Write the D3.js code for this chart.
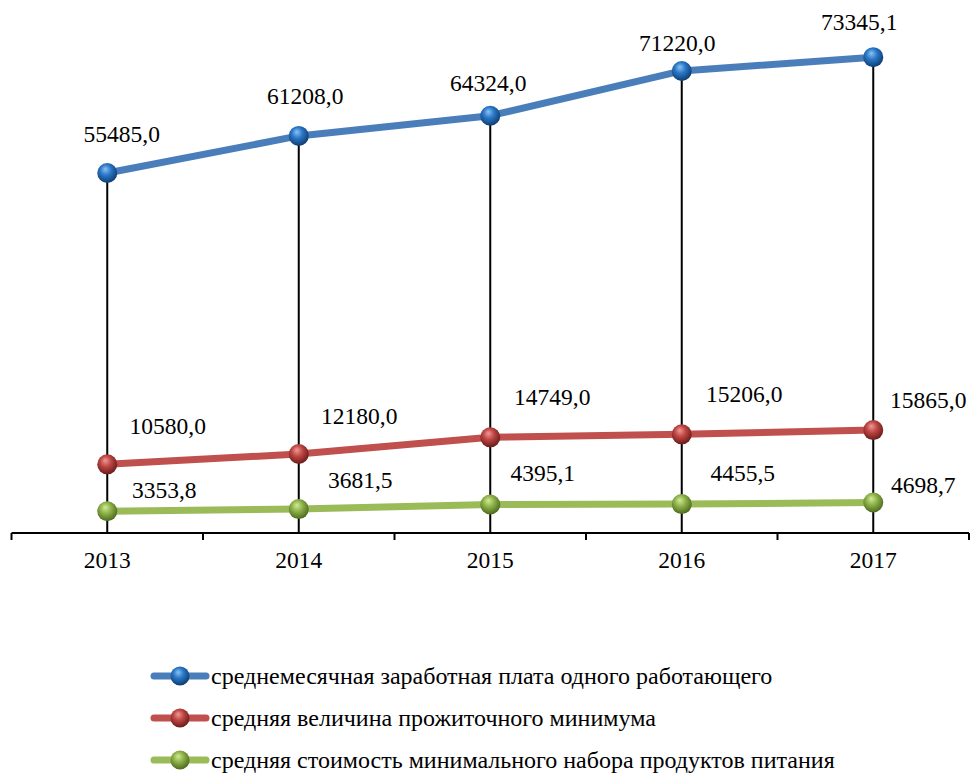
<!DOCTYPE html>
<html>
<head>
<meta charset="utf-8">
<script src="https://cdn.jsdelivr.net/npm/d3@7"></script>
<style>
  html, body { margin: 0; padding: 0; background: #fff; }
  svg { display: block; }
</style>
</head>
<body>
<script>
// Years on the category axis
const years = ["2013", "2014", "2015", "2016", "2017"];

// Series values (рублей)
const salary = [55485.0, 61208.0, 64324.0, 71220.0, 73345.1];
const subsistence = [10580.0, 12180.0, 14749.0, 15206.0, 15865.0];
const foodBasket = [3353.8, 3681.5, 4395.1, 4455.5, 4698.7];

// Series names for the legend
const seriesNames = [
  "среднемесячная заработная плата одного работающего",
  "средняя величина прожиточного минимума",
  "средняя стоимость минимального набора продуктов питания"
];

// Value label formatting: one decimal, comma separator
const fmt = v => v.toFixed(1).replace(".", ",");

const FONT = "'Liberation Serif', 'DejaVu Serif', serif";
const W = 975, H = 774;
const svg = d3.select("body").append("svg").attr("width", W).attr("height", H)
  .style("font-family", FONT);

const x = d3.scaleBand().domain(years).range([11.5, 969]).padding(0);
const y = d3.scaleLinear().domain([0, 80000]).range([533, 14]);
const xc = d => x(d) + x.bandwidth() / 2;

// Per-series styles
const styles = [
  { line: "#4A7EBB", hi: "#8cc2f2", mid: "#2a78c8", dark: "#0e3c72", id: "gBlue" },
  { line: "#C0504D", hi: "#ee9a97", mid: "#bf4744", dark: "#6a1c1a", id: "gRed" },
  { line: "#9BBB59", hi: "#d3ea9a", mid: "#8fb34a", dark: "#4d6a1f", id: "gGreen" }
];

// Label nudges relative to each point (layout only)
const labelNudge = [
  [[14.5, -31], [6.5, -32], [-2, -25], [-4.5, -20], [-14, -27]],
  [[60.5, -30], [60.5, -30], [62, -32], [62.5, -32], [55, -22]],
  [[57, -13], [61.5, -21], [52.5, -23], [61, -23], [50, -10]]
];

// Sphere-like gradients for markers
const defs = svg.append("defs");
styles.forEach(s => {
  const g = defs.append("radialGradient").attr("id", s.id)
    .attr("cx", "45%").attr("cy", "40%").attr("r", "60%")
    .attr("fx", "40%").attr("fy", "30%");
  g.append("stop").attr("offset", "0%").attr("stop-color", s.hi);
  g.append("stop").attr("offset", "45%").attr("stop-color", s.mid);
  g.append("stop").attr("offset", "100%").attr("stop-color", s.dark);
});

const allSeries = [salary, subsistence, foodBasket];

// Drop lines from the top series down to the axis
svg.append("g").selectAll("line").data(years).join("line")
  .attr("x1", d => xc(d)).attr("x2", d => xc(d))
  .attr("y1", (d, i) => y(d3.max(allSeries, s => s[i])))
  .attr("y2", y(0))
  .attr("stroke", "#000").attr("stroke-width", 2);

// Category axis with ticks at band boundaries
const axisG = svg.append("g");
axisG.append("line")
  .attr("x1", x.range()[0]).attr("x2", x.range()[1])
  .attr("y1", y(0)).attr("y2", y(0))
  .attr("stroke", "#000").attr("stroke-width", 2);
const bounds = years.map(d => x(d)).concat([x.range()[1]]);
axisG.selectAll("line.tick").data(bounds).join("line").attr("class", "tick")
  .attr("x1", d => d).attr("x2", d => d)
  .attr("y1", y(0)).attr("y2", y(0) + 7)
  .attr("stroke", "#000").attr("stroke-width", 2);
axisG.selectAll("text").data(years).join("text")
  .attr("x", d => xc(d)).attr("y", 568)
  .attr("text-anchor", "middle").attr("font-size", "23.5px")
  .attr("font-family", FONT)
  .text(d => d);

// Lines and markers
const line = d3.line().x((d, i) => xc(years[i])).y(d => y(d));
allSeries.forEach((vals, si) => {
  const s = styles[si];
  svg.append("path").datum(vals)
    .attr("d", line).attr("fill", "none")
    .attr("stroke", s.line).attr("stroke-width", 7)
    .attr("stroke-linejoin", "round");
});
allSeries.forEach((vals, si) => {
  const s = styles[si];
  svg.append("g").selectAll("circle").data(vals).join("circle")
    .attr("cx", (d, i) => xc(years[i])).attr("cy", d => y(d))
    .attr("r", 10).attr("fill", `url(#${s.id})`);
  svg.append("g").selectAll("text").data(vals).join("text")
    .attr("x", (d, i) => xc(years[i]) + labelNudge[si][i][0])
    .attr("y", (d, i) => y(d) + labelNudge[si][i][1])
    .attr("text-anchor", "middle").attr("font-size", "23.5px")
    .attr("font-family", FONT)
    .text(d => fmt(d));
});

// Legend
const legend = svg.append("g");
seriesNames.forEach((name, i) => {
  const s = styles[i];
  const ly = 676 + i * 42;
  const row = legend.append("g");
  row.append("line")
    .attr("x1", 154).attr("x2", 206).attr("y1", ly).attr("y2", ly)
    .attr("stroke", s.line).attr("stroke-width", 7).attr("stroke-linecap", "round");
  row.append("circle").attr("cx", 180).attr("cy", ly).attr("r", 9.5)
    .attr("fill", `url(#${s.id})`);
  row.append("text").attr("x", 211).attr("y", ly + 8)
    .attr("font-size", "24px").attr("font-family", FONT).text(name);
});
</script>
</body>
</html>
